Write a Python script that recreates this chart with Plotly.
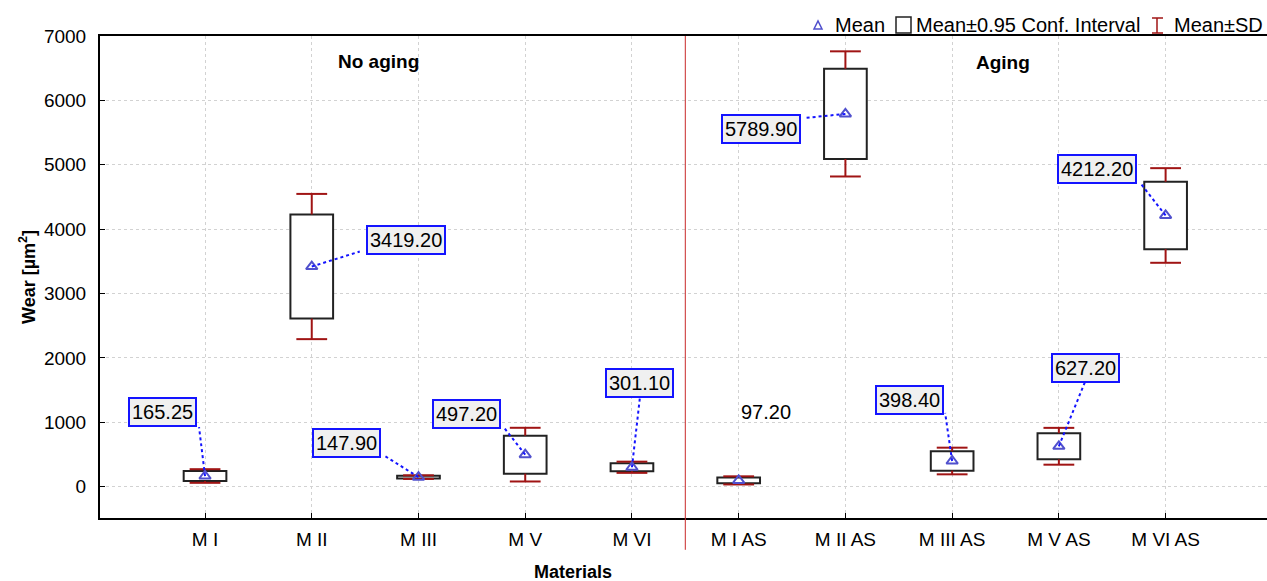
import plotly.graph_objects as go

# Materials on the x axis (first five without aging, last five after aging)
materials = ["M I", "M II", "M III", "M V", "M VI",
             "M I AS", "M II AS", "M III AS", "M V AS", "M VI AS"]

# Mean wear [µm²]
mean_wear = [165.25, 3419.20, 147.90, 497.20, 301.10,
             97.20, 5789.90, 398.40, 627.20, 4212.20]

# Half-width of the 0.95 confidence interval
ci_half = [78, 809, 20, 295, 61,
           45, 700, 150, 203, 523]

# Standard deviation
sd = [106, 1128, 28, 417, 87,
      63, 972, 207, 286, 735]

# Label placement (pixel offsets from the mean marker) and leader-line ends
label_shift = [(-43, 64), (94, 27), (-72, 34), (-59, 41), (8, 84),
               (27, 68), (-84, -15), (-43, 61), (27, 78), (-69, 46)]
leader_end = [(-6, 49), (48, 15), (-35, 22), (-22, 28), (8, 70),
              None, (-40, -4), (-7, 48), (26, 64), (-25, 32)]
boxed_label = [True, True, True, True, True, False, True, True, True, True]

FONT = "Liberation Sans, Arial, sans-serif"
BLUE_MARK = "rgb(80,80,205)"
SD_RED = "rgb(160,20,20)"
LABEL_BLUE = "rgb(20,20,255)"

W, H = 1267, 581
ML, MR, MT, MB = 100, 0, 36, 63
PW, PH = W - ML - MR, H - MT - MB


def px_x(p):
    return (p - ML) / PW


def px_y(p):
    return (H - MB - p) / PH


idx = list(range(len(materials)))
ci_low = [m - c for m, c in zip(mean_wear, ci_half)]
ci_high = [m + c for m, c in zip(mean_wear, ci_half)]
sd_low = [m - s for m, s in zip(mean_wear, sd)]
sd_high = [m + s for m, s in zip(mean_wear, sd)]

fig = go.Figure()

# Confidence-interval boxes
fig.add_trace(go.Bar(
    x=idx, y=[h - l for l, h in zip(ci_low, ci_high)], base=ci_low,
    width=0.4, marker=dict(color="white", line=dict(color="#222222", width=2)),
    showlegend=False, hoverinfo="skip"))

# SD whiskers outside the boxes
wx, wy = [], []
for i in idx:
    wx += [i, i, None, i, i, None]
    wy += [ci_high[i], sd_high[i], None, ci_low[i], sd_low[i], None]
fig.add_trace(go.Scatter(x=wx, y=wy, mode="lines",
                         line=dict(color=SD_RED, width=2),
                         showlegend=False, hoverinfo="skip"))
fig.add_trace(go.Scatter(x=idx + idx, y=sd_high + sd_low, mode="markers",
                         marker=dict(symbol="line-ew", size=22,
                                     line=dict(color=SD_RED, width=2)),
                         showlegend=False, hoverinfo="skip"))

# Mean markers
fig.add_trace(go.Scatter(x=idx, y=mean_wear, mode="markers",
                         marker=dict(symbol="triangle-up-open", size=10,
                                     color=BLUE_MARK,
                                     line=dict(color=BLUE_MARK, width=2)),
                         showlegend=False, hoverinfo="skip"))

shapes = []
annotations = []

# Value labels and dotted leader lines
for i in idx:
    dx, dy = label_shift[i]
    label = dict(
        x=i, y=mean_wear[i], xref="x", yref="y",
        text=f"{mean_wear[i]:.2f}", showarrow=False,
        xanchor="center", yanchor="middle",
        xshift=dx, yshift=dy,
        font=dict(family=FONT, size=20, color="black"))
    if boxed_label[i]:
        label.update(bgcolor="#f0f0f0", bordercolor=LABEL_BLUE,
                     borderwidth=2, borderpad=2)
    annotations.append(label)
    if leader_end[i] is not None:
        lx, ly = leader_end[i]
        shapes.append(dict(
            type="line", xref="x", yref="y",
            xsizemode="pixel", ysizemode="pixel",
            xanchor=i, yanchor=mean_wear[i],
            x0=0, y0=0, x1=lx, y1=ly,
            line=dict(color=LABEL_BLUE, width=2, dash="dot")))

# Separator between the two groups
shapes.append(dict(type="line", xref="x", yref="paper",
                   x0=4.5, x1=4.5, y0=-0.066, y1=1,
                   line=dict(color="rgb(200,40,40)", width=1)))


def text_at(px, py, text, size, xanchor="center", angle=0):
    return dict(x=px_x(px), y=px_y(py), xref="paper", yref="paper",
                xanchor=xanchor, yanchor="middle", text=text,
                showarrow=False, textangle=angle,
                font=dict(family=FONT, size=size, color="black"))


# Group titles
annotations.append(text_at(378, 61, "<b>No aging</b>", 19))
annotations.append(text_at(1003, 62, "<b>Aging</b>", 19))

# Legend row above the plot
ly_c = 25
shapes.append(dict(type="path", xref="paper", yref="paper",
                   path=(f"M {px_x(814)},{px_y(29)} L {px_x(822)},{px_y(29)} "
                         f"L {px_x(818)},{px_y(21)} Z"),
                   line=dict(color=BLUE_MARK, width=1.5)))
annotations.append(text_at(833, ly_c, "Mean", 20, "left"))
shapes.append(dict(type="rect", xref="paper", yref="paper",
                   x0=px_x(896), x1=px_x(911), y0=px_y(33), y1=px_y(17),
                   fillcolor="white", line=dict(color="#222222", width=1.5)))
annotations.append(text_at(914, ly_c, "Mean±0.95 Conf. Interval", 20, "left"))
for seg in [(1157, 18, 1157, 33), (1152, 18, 1163, 18), (1152, 33, 1163, 33)]:
    shapes.append(dict(type="line", xref="paper", yref="paper",
                       x0=px_x(seg[0]), y0=px_y(seg[1]),
                       x1=px_x(seg[2]), y1=px_y(seg[3]),
                       line=dict(color=SD_RED, width=1.5)))
annotations.append(text_at(1172, ly_c, "Mean±SD", 20, "left"))

# Axis titles
annotations.append(text_at(573, 572, "<b>Materials</b>", 18))
annotations.append(text_at(27, 277, "<b>Wear [µm<sup>2</sup>]</b>", 18,
                           angle=-90))

fig.update_layout(
    width=W, height=H,
    margin=dict(l=ML, r=MR, t=MT, b=MB),
    paper_bgcolor="white", plot_bgcolor="white",
    barmode="overlay", showlegend=False,
    shapes=shapes, annotations=annotations,
    font=dict(family=FONT, size=19, color="black"),
)
fig.update_xaxes(
    range=[-0.984, 9.95], tickmode="array", tickvals=idx, ticktext=materials,
    showline=True, linecolor="black", linewidth=2, mirror=True,
    ticks="inside", ticklen=5, tickcolor="black",
    showgrid=True, gridcolor="#d2d2d2", griddash="dot", gridwidth=1,
    zeroline=False, ticklabelstandoff=3,
    tickfont=dict(family=FONT, size=19, color="black"))
fig.update_yaxes(
    range=[-487, 7000], tickmode="array",
    tickvals=[0, 1000, 2000, 3000, 4000, 5000, 6000, 7000],
    showline=True, linecolor="black", linewidth=2, mirror=False,
    ticks="inside", ticklen=5, tickcolor="black",
    showgrid=True, gridcolor="#d2d2d2", griddash="dot", gridwidth=1,
    zeroline=False, ticklabelstandoff=8,
    tickfont=dict(family=FONT, size=19, color="black"))

fig.write_html("out.html")
